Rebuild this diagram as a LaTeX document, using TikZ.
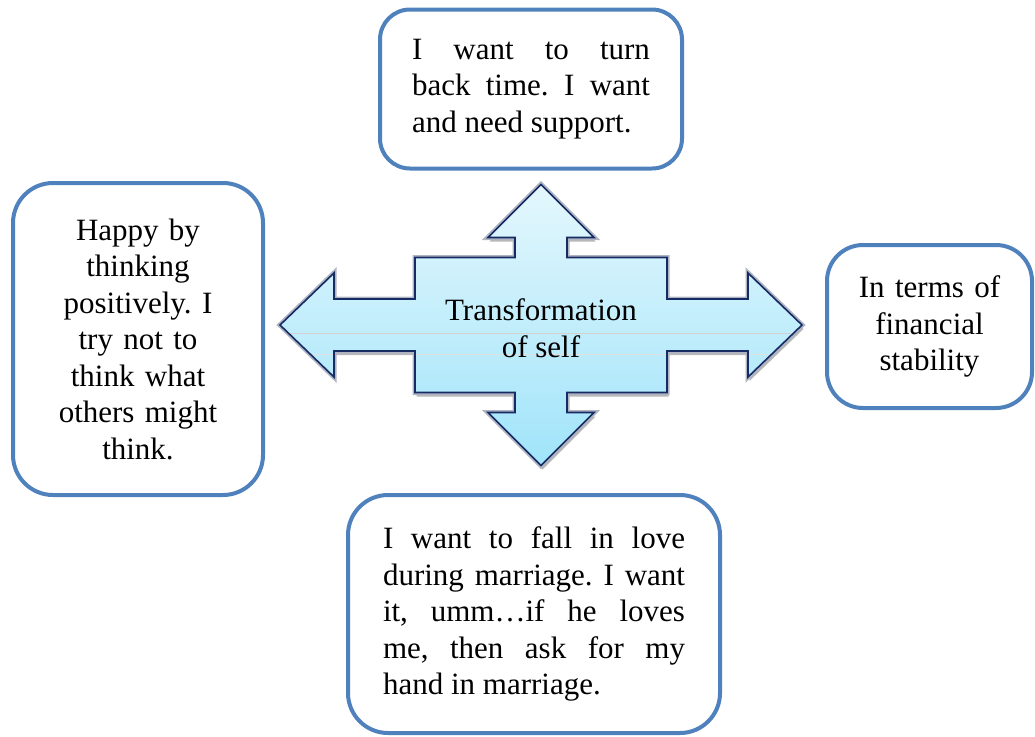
\documentclass[tikz,border=0pt]{standalone}
\usepackage{fontspec}
\setmainfont{Liberation Serif}
\hbadness=10000
\frenchspacing
\definecolor{boxblue}{RGB}{79,129,189}
\definecolor{arrowline}{RGB}{22,42,100}
\definecolor{arrowtop}{RGB}{228,247,253}
\definecolor{arrowbot}{RGB}{160,228,250}
\definecolor{haloline}{RGB}{175,180,195}
\begin{document}
\begin{tikzpicture}[x=1pt,y=-1pt,
  note/.style={draw=boxblue, line width=4pt, fill=white, rounded corners=#1,
               inner sep=0pt, font=\fontsize{31}{36.5}\selectfont},
  centretext/.style={align=center, font=\fontsize{31}{37}\selectfont, inner sep=0pt}]
\useasboundingbox (0,0) rectangle (1035,736);

% four-way arrow outline, centred on (541,325)
\def\crossarrow{(541,184.5) -- (594,237.5) -- (567,237.5) -- (567,257.5)
  -- (667,257.5) -- (667,299) -- (748,299) -- (748,273) -- (802,325)
  -- (748,377) -- (748,351) -- (667,351) -- (667,392.5) -- (567,392.5)
  -- (567,412.5) -- (594,412.5) -- (541,465.5) -- (488,412.5) -- (515,412.5)
  -- (515,392.5) -- (415,392.5) -- (415,351) -- (334,351) -- (334,377)
  -- (280,325) -- (334,273) -- (334,299) -- (415,299) -- (415,257.5)
  -- (515,257.5) -- (515,237.5) -- (488,237.5) -- cycle}

% soft drop shadow and pale halo
\fill[black, opacity=0.28, shift={(1.5,4)}] \crossarrow;
\draw[haloline, line width=5pt, line join=miter] \crossarrow;
% body with vertical gradient
\shade[top color=arrowtop, bottom color=arrowbot] \crossarrow;
% faint gloss lines across the body
\begin{scope}
  \clip \crossarrow;
  \draw[black!18, line width=0.8pt] (270,333) -- (810,333);
  \draw[black!12, line width=0.8pt] (270,354) -- (810,354);
\end{scope}
\draw[arrowline, line width=1.6pt, line join=miter] \crossarrow;

\node[centretext] (self) at (541,328) {Transformation\\of self};

% the four speech boxes
\node[note=30pt, minimum width=302pt, minimum height=159pt] (past) at (531,89)
  {\parbox{238pt}{\spaceskip=0.25em plus 3em minus 0.1em
   I want to turn\linebreak back time. I want\linebreak and need support.}};
\node[note=40pt, minimum width=250pt, minimum height=312pt, align=center, text width=230pt] (happy) at (138,339)
  {Happy by\\thinking\\positively. I\\try not to\\think what\\others might\\think.};
\node[note=36pt, minimum width=205pt, minimum height=163pt, align=center, text width=190pt] (money) at (929.5,326.5)
  {In terms of\\financial\\stability};
\node[note=40pt, minimum width=372pt, minimum height=238pt] (love) at (534,614)
  {\parbox{302pt}{\spaceskip=0.25em plus 2em minus 0.1em
   I want to fall in love\linebreak during marriage. I want\linebreak
   it, umm…if he loves\linebreak me, then ask for my\linebreak hand in marriage.}};
\end{tikzpicture}
\end{document}
